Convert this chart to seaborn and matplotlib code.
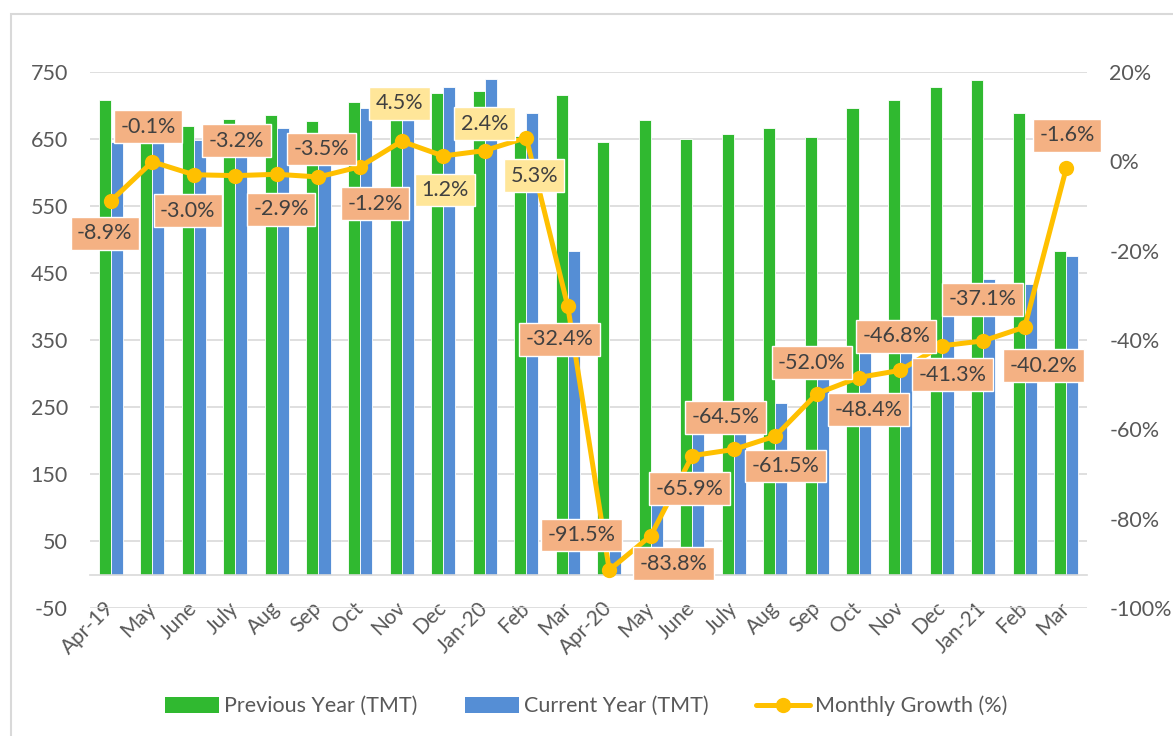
import numpy as np
import pandas as pd
import matplotlib
matplotlib.use("Agg")
import matplotlib.pyplot as plt
import seaborn as sns
from matplotlib.patches import Patch, Rectangle
from matplotlib.lines import Line2D

# ---------------- data ----------------
months = ["Apr-19", "May", "June", "July", "Aug", "Sep", "Oct", "Nov", "Dec",
          "Jan-20", "Feb", "Mar", "Apr-20", "May", "June", "July", "Aug", "Sep",
          "Oct", "Nov", "Dec", "Jan-21", "Feb", "Mar"]
previous_year = [708, 679, 669, 680, 686, 677, 705, 678, 719, 721, 654, 715,
                 645, 678, 650, 658, 666, 653, 697, 708, 728, 738, 689, 483]
current_year = [645, 678, 649, 658, 666, 653, 697, 708, 728, 739, 689, 483,
                55, 110, 221, 233, 256, 313, 360, 377, 427, 441, 433, 475]
growth = [-8.9, -0.1, -3.0, -3.2, -2.9, -3.5, -1.2, 4.5, 1.2, 2.4, 5.3, -32.4,
          -91.5, -83.8, -65.9, -64.5, -61.5, -52.0, -48.4, -46.8, -41.3, -40.2,
          -37.1, -1.6]
series_names = ["Previous Year (TMT)", "Current Year (TMT)", "Monthly Growth (%)"]

# label offsets (pixels) relative to each point - styling only
label_dx = [-6, -4, -6, 1, 4, 3, 15, -2, 2, 0, 8, -8,
            -28, 23, -3, -8, 10, -5, 10, -4, 11, 60, -42, 1]
label_dy = [-32, 35, -36, 35, -35, 28, -37, 38, -34, 27, -38, -33,
            35, -28, -33, 32, -30, 31, -32, 34, -29, -25, 28, 33]

# ---------------- style ----------------
GREEN = "#30B930"
BLUE = "#558ED5"
LINE = "#FFC000"
NEG_BOX = "#F4B183"
POS_BOX = "#FFE699"
GRID = "#D9D9D9"
TXT = "#595959"
LBL = "#404040"

sns.set_theme(style="white")
plt.rcParams["font.family"] = ["Lato", "DejaVu Sans"]
plt.rcParams["axes.unicode_minus"] = False

W, H = 1173, 736
fig = plt.figure(figsize=(W / 100, H / 100), dpi=100)
ax = fig.add_axes([90 / W, 1 - 608 / H, (1087 - 90) / W, (608 - 72) / H])

n = len(months)
df = pd.DataFrame({
    "idx": list(range(n)) * 2,
    "value": previous_year + current_year,
    "series": [series_names[0]] * n + [series_names[1]] * n,
})
sns.barplot(data=df, x="idx", y="value", hue="series",
            hue_order=series_names[:2], palette=[GREEN, BLUE],
            width=0.58, ax=ax, legend=False, edgecolor="white", linewidth=0.6,
            saturation=1, zorder=2)

ax.set_xlim(-0.5, n - 0.5)
ax.set_ylim(-50, 750)
ax.set_yticks(np.arange(-50, 751, 100))
ax.yaxis.grid(True, color=GRID, linewidth=1.2, zorder=0)
ax.set_axisbelow(True)
ax.set_xlabel("")
ax.set_ylabel("")
for s in ["top", "right", "left"]:
    ax.spines[s].set_visible(False)
ax.spines["bottom"].set_position(("data", 0))
ax.spines["bottom"].set_color(GRID)
ax.spines["bottom"].set_linewidth(1.2)
ax.set_xticks(range(n))
ax.set_xticklabels(months, rotation=45, ha="right", va="center",
                   rotation_mode="anchor")
ax.tick_params(axis="x", length=0, pad=22, labelsize=15, labelcolor=TXT)
ax.tick_params(axis="y", length=0, pad=16, labelsize=15.5, labelcolor=TXT)

# secondary axis with growth line
ax2 = ax.twinx()
sns.lineplot(x=np.arange(n), y=growth, ax=ax2, color=LINE, linewidth=3.6,
             marker="o", markersize=11, markeredgewidth=0, zorder=3)
ax2.set_ylim(-100, 20)
ax2.set_yticks(np.arange(-100, 21, 20))
ax2.set_yticklabels([f"{v}%" for v in range(-100, 21, 20)])
ax2.tick_params(axis="y", length=0, pad=16, labelsize=15.5, labelcolor=TXT)
ax2.grid(False)
for s in ax2.spines.values():
    s.set_visible(False)
ax2.set_xlim(-0.5, n - 0.5)

for i, g in enumerate(growth):
    ax2.annotate(f"{g:.1f}%", xy=(i, g), xytext=(label_dx[i], label_dy[i]),
                 textcoords="offset pixels", ha="center", va="center",
                 fontsize=15.5, color=LBL, zorder=5,
                 bbox=dict(boxstyle="square,pad=0.3",
                           fc=POS_BOX if g > 0 else NEG_BOX,
                           ec="white", lw=1))

# legend
handles = [
    Patch(facecolor=GREEN, edgecolor="none"),
    Patch(facecolor=BLUE, edgecolor="none"),
    Line2D([0], [0], color=LINE, lw=3.6, marker="o", markersize=11,
           markeredgewidth=0),
]
fig.legend(handles, series_names, loc="center", bbox_to_anchor=(0.5, 1 - 706 / H),
           ncol=3, frameon=False, fontsize=15.5, labelcolor=TXT,
           handlelength=2.5, handleheight=0.75, handletextpad=0.25,
           columnspacing=2.2)

# chart border
fig.patches.append(Rectangle((11 / W, -0.1), 1.2, 1 - 14 / H + 0.1,
                             transform=fig.transFigure, fill=False,
                             edgecolor=GRID, linewidth=1.5))

fig.savefig("out.png", dpi=100, facecolor="white")
